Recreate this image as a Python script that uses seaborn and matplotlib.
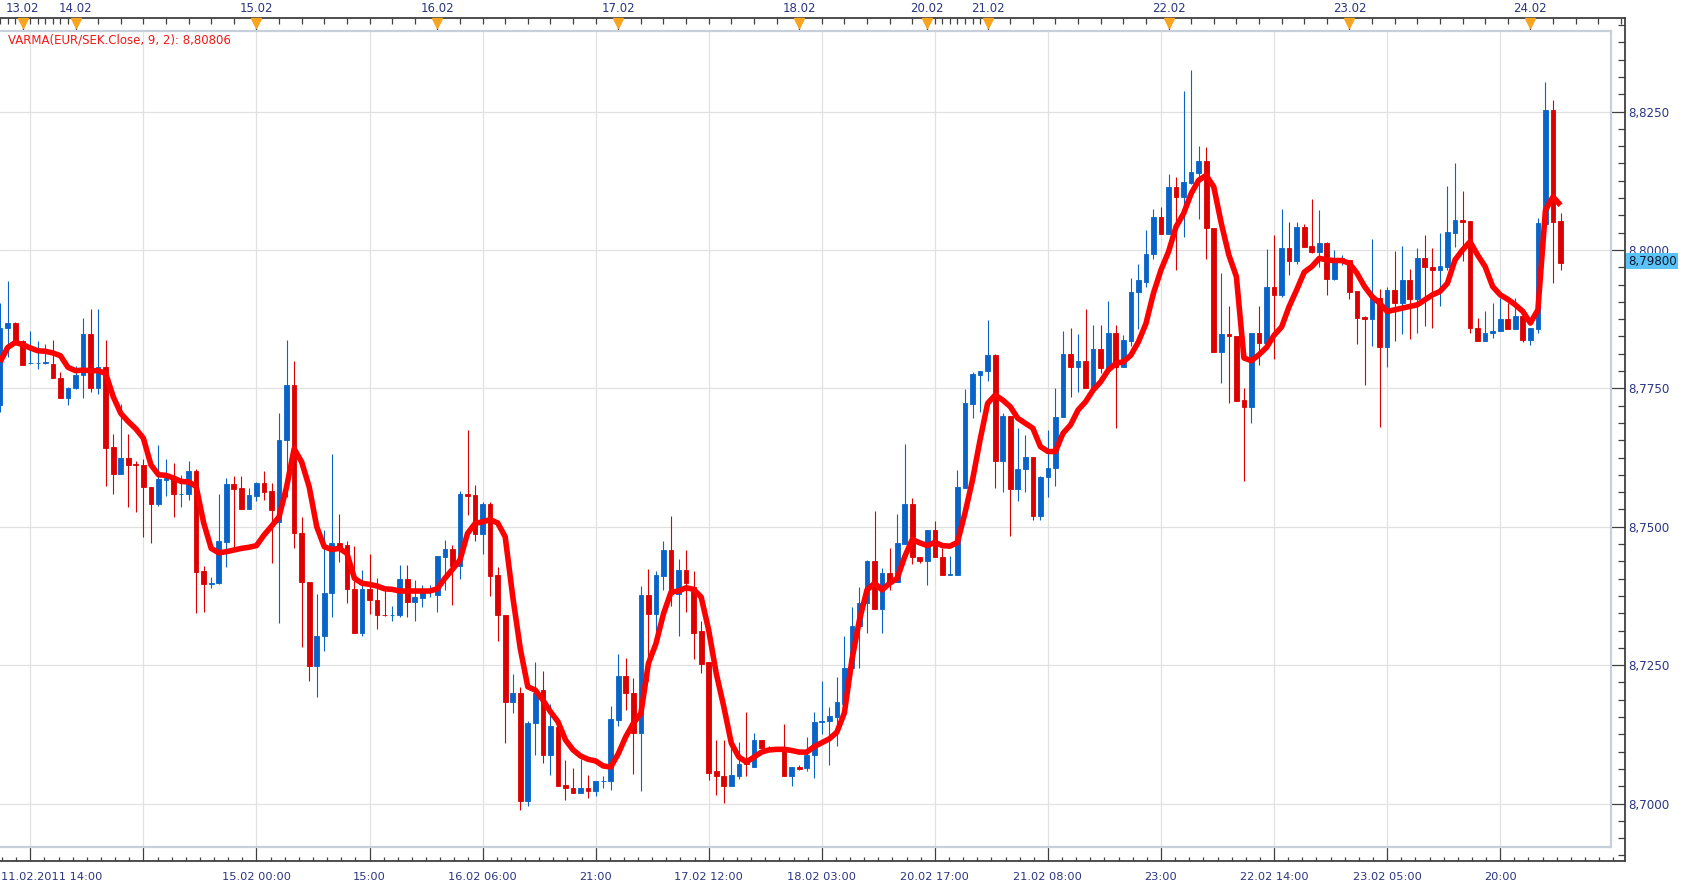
import numpy as np
import matplotlib
matplotlib.use("Agg")
import matplotlib.pyplot as plt
from matplotlib.ticker import MultipleLocator, FixedLocator
import seaborn as sns

# ---------------- data (hourly EUR/SEK candles) ----------------
opens = [
    8.7720, 8.7859, 8.7869, 8.7836, 8.7795, 8.7795, 8.7795, 8.7794, 8.7769, 8.7732,
    8.7750, 8.7774, 8.7848, 8.7751, 8.7788, 8.7644, 8.7596, 8.7624, 8.7613, 8.7611,
    8.7572, 8.7542, 8.7585, 8.7587, 8.7559, 8.7559, 8.7601, 8.7420, 8.7397, 8.7399,
    8.7473, 8.7577, 8.7570, 8.7533, 8.7556, 8.7579, 8.7565, 8.7509, 8.7656, 8.7756,
    8.7488, 8.7400, 8.7248, 8.7303, 8.7380, 8.7470, 8.7467, 8.7387, 8.7308, 8.7387,
    8.7368, 8.7341, 8.7340, 8.7340, 8.7406, 8.7365, 8.7372, 8.7383, 8.7377, 8.7446,
    8.7460, 8.7430, 8.7559, 8.7557, 8.7487, 8.7541, 8.7413, 8.7341, 8.7184, 8.7199,
    8.7004, 8.7145, 8.7206, 8.7088, 8.7139, 8.7034, 8.7028, 8.7020, 8.7028, 8.7023,
    8.7040, 8.7040, 8.7151, 8.7230, 8.7200, 8.7128, 8.7377, 8.7342, 8.7411, 8.7458,
    8.7378, 8.7422, 8.7392, 8.7311, 8.7255, 8.7058, 8.7050, 8.7032, 8.7050, 8.7075,
    8.7067, 8.7114, 8.7100, 8.7100, 8.7100, 8.7049, 8.7066, 8.7064, 8.7088, 8.7147,
    8.7149, 8.7157, 8.7180, 8.7245, 8.7320, 8.7362, 8.7438, 8.7351, 8.7416, 8.7400,
    8.7469, 8.7541, 8.7446, 8.7439, 8.7494, 8.7445, 8.7413, 8.7413, 8.7570, 8.7722,
    8.7775, 8.7781, 8.7810, 8.7618, 8.7700, 8.7568, 8.7604, 8.7626, 8.7520, 8.7590,
    8.7606, 8.7698, 8.7812, 8.7789, 8.7800, 8.7750, 8.7821, 8.7786, 8.7850, 8.7788,
    8.7836, 8.7924, 8.7943, 8.7992, 8.8060, 8.8028, 8.8114, 8.8095, 8.8121, 8.8139,
    8.8160, 8.8040, 8.7816, 8.7848, 8.7845, 8.7729, 8.7717, 8.7850, 8.7832, 8.7933,
    8.7918, 8.8003, 8.7981, 8.8041, 8.8007, 8.7997, 8.8012, 8.7947, 8.7982, 8.7982,
    8.7926, 8.7879, 8.7875, 8.7913, 8.7825, 8.7928, 8.7904, 8.7946, 8.7912, 8.7985,
    8.7969, 8.7963, 8.7970, 8.8031, 8.8054, 8.8052, 8.7860, 8.7836, 8.7850, 8.7853,
    8.7876, 8.7858, 8.7881, 8.7838, 8.7858, 8.8047, 8.8253, 8.8052,
]
highs = [
    8.7904, 8.7944, 8.7870, 8.7837, 8.7854, 8.7835, 8.7830, 8.7838, 8.7780, 8.7752,
    8.7791, 8.7877, 8.7893, 8.7893, 8.7838, 8.7668, 8.7721, 8.7668, 8.7618, 8.7622,
    8.7572, 8.7647, 8.7623, 8.7615, 8.7594, 8.7619, 8.7605, 8.7429, 8.7409, 8.7559,
    8.7588, 8.7592, 8.7591, 8.7570, 8.7581, 8.7601, 8.7579, 8.7706, 8.7837, 8.7800,
    8.7518, 8.7400, 8.7378, 8.7494, 8.7632, 8.7524, 8.7475, 8.7465, 8.7422, 8.7451,
    8.7407, 8.7386, 8.7357, 8.7431, 8.7431, 8.7404, 8.7395, 8.7395, 8.7448, 8.7476,
    8.7467, 8.7564, 8.7675, 8.7576, 8.7544, 8.7544, 8.7427, 8.7341, 8.7234, 8.7210,
    8.7149, 8.7255, 8.7240, 8.7180, 8.7145, 8.7079, 8.7065, 8.7080, 8.7052, 8.7041,
    8.7050, 8.7176, 8.7271, 8.7263, 8.7226, 8.7393, 8.7424, 8.7421, 8.7474, 8.7519,
    8.7442, 8.7458, 8.7420, 8.7329, 8.7255, 8.7114, 8.7115, 8.7112, 8.7112, 8.7166,
    8.7127, 8.7114, 8.7104, 8.7102, 8.7144, 8.7067, 8.7070, 8.7121, 8.7166, 8.7222,
    8.7174, 8.7228, 8.7302, 8.7356, 8.7391, 8.7440, 8.7529, 8.7425, 8.7461, 8.7523,
    8.7650, 8.7552, 8.7446, 8.7494, 8.7511, 8.7461, 8.7447, 8.7603, 8.7749, 8.7779,
    8.7782, 8.7874, 8.7812, 8.7705, 8.7701, 8.7678, 8.7666, 8.7626, 8.7591, 8.7674,
    8.7750, 8.7854, 8.7860, 8.7848, 8.7893, 8.7865, 8.7865, 8.7908, 8.7865, 8.7847,
    8.7949, 8.7975, 8.8036, 8.8074, 8.8077, 8.8137, 8.8131, 8.8287, 8.8325, 8.8188,
    8.8186, 8.8040, 8.7958, 8.7899, 8.7845, 8.7750, 8.7850, 8.7899, 8.8002, 8.8027,
    8.8074, 8.8050, 8.8050, 8.8047, 8.8092, 8.8072, 8.8015, 8.8000, 8.7991, 8.7982,
    8.7926, 8.7880, 8.8020, 8.7930, 8.7934, 8.7998, 8.8007, 8.7966, 8.8003, 8.8027,
    8.8003, 8.8031, 8.8116, 8.8158, 8.8107, 8.8052, 8.7878, 8.7889, 8.7905, 8.7913,
    8.7904, 8.7913, 8.7881, 8.7859, 8.8058, 8.8303, 8.8271, 8.8066,
]
lows = [
    8.7708, 8.7806, 8.7834, 8.7792, 8.7794, 8.7785, 8.7794, 8.7768, 8.7732, 8.7720,
    8.7749, 8.7732, 8.7744, 8.7739, 8.7573, 8.7559, 8.7595, 8.7535, 8.7526, 8.7481,
    8.7471, 8.7538, 8.7555, 8.7517, 8.7535, 8.7549, 8.7344, 8.7347, 8.7390, 8.7396,
    8.7428, 8.7464, 8.7533, 8.7532, 8.7546, 8.7548, 8.7434, 8.7326, 8.7554, 8.7461,
    8.7282, 8.7222, 8.7192, 8.7275, 8.7337, 8.7437, 8.7363, 8.7308, 8.7303, 8.7343,
    8.7315, 8.7339, 8.7330, 8.7337, 8.7337, 8.7329, 8.7356, 8.7374, 8.7347, 8.7385,
    8.7359, 8.7406, 8.7521, 8.7475, 8.7451, 8.7375, 8.7294, 8.7109, 8.7163, 8.6988,
    8.6995, 8.7088, 8.7073, 8.7052, 8.7032, 8.7007, 8.7020, 8.7020, 8.7011, 8.7014,
    8.7029, 8.7025, 8.7141, 8.7169, 8.7053, 8.7022, 8.7222, 8.7312, 8.7386, 8.7357,
    8.7302, 8.7347, 8.7261, 8.7236, 8.7043, 8.7015, 8.7001, 8.7032, 8.7044, 8.7049,
    8.7067, 8.7100, 8.7096, 8.7095, 8.7049, 8.7031, 8.7060, 8.7058, 8.7046, 8.7126,
    8.7070, 8.7104, 8.7163, 8.7245, 8.7245, 8.7309, 8.7351, 8.7309, 8.7386, 8.7400,
    8.7469, 8.7432, 8.7434, 8.7395, 8.7445, 8.7413, 8.7413, 8.7413, 8.7570, 8.7697,
    8.7708, 8.7763, 8.7570, 8.7562, 8.7484, 8.7547, 8.7562, 8.7512, 8.7512, 8.7553,
    8.7573, 8.7698, 8.7734, 8.7743, 8.7750, 8.7750, 8.7777, 8.7786, 8.7678, 8.7788,
    8.7827, 8.7857, 8.7934, 8.7984, 8.8028, 8.8028, 8.7963, 8.8024, 8.8120, 8.8056,
    8.7984, 8.7816, 8.7760, 8.7724, 8.7728, 8.7582, 8.7687, 8.7792, 8.7832, 8.7803,
    8.7915, 8.7954, 8.7975, 8.8006, 8.7995, 8.7970, 8.7918, 8.7945, 8.7973, 8.7912,
    8.7830, 8.7757, 8.7827, 8.7680, 8.7788, 8.7835, 8.7848, 8.7839, 8.7850, 8.7863,
    8.7860, 8.7898, 8.7964, 8.8006, 8.7980, 8.7850, 8.7836, 8.7836, 8.7841, 8.7853,
    8.7858, 8.7858, 8.7833, 8.7829, 8.7850, 8.8047, 8.7941, 8.7964,
]
closes = [
    8.7859, 8.7869, 8.7836, 8.7793, 8.7796, 8.7796, 8.7797, 8.7768, 8.7732, 8.7751,
    8.7774, 8.7848, 8.7751, 8.7788, 8.7643, 8.7596, 8.7624, 8.7612, 8.7611, 8.7571,
    8.7542, 8.7586, 8.7588, 8.7559, 8.7560, 8.7601, 8.7419, 8.7397, 8.7399, 8.7475,
    8.7577, 8.7568, 8.7533, 8.7557, 8.7579, 8.7563, 8.7530, 8.7657, 8.7756, 8.7488,
    8.7400, 8.7248, 8.7303, 8.7380, 8.7470, 8.7464, 8.7387, 8.7308, 8.7387, 8.7367,
    8.7340, 8.7340, 8.7341, 8.7406, 8.7365, 8.7374, 8.7385, 8.7386, 8.7447, 8.7460,
    8.7430, 8.7559, 8.7556, 8.7487, 8.7541, 8.7411, 8.7340, 8.7184, 8.7199, 8.7004,
    8.7145, 8.7199, 8.7088, 8.7140, 8.7032, 8.7028, 8.7020, 8.7028, 8.7023, 8.7041,
    8.7041, 8.7153, 8.7230, 8.7200, 8.7128, 8.7377, 8.7342, 8.7413, 8.7458, 8.7378,
    8.7422, 8.7398, 8.7309, 8.7252, 8.7056, 8.7049, 8.7032, 8.7052, 8.7072, 8.7072,
    8.7114, 8.7100, 8.7098, 8.7097, 8.7049, 8.7067, 8.7062, 8.7088, 8.7148, 8.7150,
    8.7159, 8.7183, 8.7245, 8.7321, 8.7362, 8.7438, 8.7351, 8.7416, 8.7401, 8.7470,
    8.7541, 8.7445, 8.7439, 8.7494, 8.7445, 8.7413, 8.7415, 8.7571, 8.7723, 8.7776,
    8.7782, 8.7810, 8.7618, 8.7700, 8.7568, 8.7604, 8.7626, 8.7520, 8.7590, 8.7607,
    8.7699, 8.7812, 8.7789, 8.7800, 8.7750, 8.7821, 8.7786, 8.7850, 8.7789, 8.7838,
    8.7924, 8.7945, 8.7993, 8.8060, 8.8028, 8.8114, 8.8095, 8.8123, 8.8140, 8.8160,
    8.8040, 8.7816, 8.7848, 8.7844, 8.7728, 8.7717, 8.7850, 8.7832, 8.7933, 8.7918,
    8.8003, 8.7981, 8.8041, 8.8006, 8.7997, 8.8012, 8.7947, 8.7982, 8.7985, 8.7925,
    8.7878, 8.7875, 8.7913, 8.7825, 8.7928, 8.7904, 8.7946, 8.7912, 8.7985, 8.7969,
    8.7963, 8.7971, 8.8032, 8.8054, 8.8051, 8.7860, 8.7836, 8.7850, 8.7854, 8.7876,
    8.7858, 8.7881, 8.7838, 8.7859, 8.8048, 8.8253, 8.8051, 8.7977,
]
varma = [
    8.7798, 8.7824, 8.7833, 8.7829, 8.7823, 8.7818, 8.7817, 8.7814, 8.7809, 8.7788,
    8.7782, 8.7783, 8.7782, 8.7782, 8.7777, 8.7735, 8.7705, 8.7690, 8.7677, 8.7660,
    8.7612, 8.7594, 8.7593, 8.7588, 8.7582, 8.7581, 8.7573, 8.7507, 8.7461, 8.7453,
    8.7455, 8.7458, 8.7461, 8.7463, 8.7466, 8.7485, 8.7501, 8.7518, 8.7572, 8.7641,
    8.7617, 8.7572, 8.7500, 8.7464, 8.7459, 8.7461, 8.7452, 8.7407, 8.7398, 8.7396,
    8.7393, 8.7388, 8.7387, 8.7384, 8.7384, 8.7384, 8.7384, 8.7384, 8.7388, 8.7407,
    8.7423, 8.7440, 8.7488, 8.7506, 8.7509, 8.7513, 8.7507, 8.7482, 8.7374, 8.7280,
    8.7211, 8.7205, 8.7187, 8.7166, 8.7148, 8.7115, 8.7097, 8.7086, 8.7080, 8.7077,
    8.7068, 8.7066, 8.7090, 8.7121, 8.7145, 8.7163, 8.7253, 8.7289, 8.7343, 8.7382,
    8.7384, 8.7390, 8.7387, 8.7373, 8.7313, 8.7235, 8.7175, 8.7109, 8.7084, 8.7075,
    8.7084, 8.7093, 8.7097, 8.7098, 8.7098, 8.7096, 8.7093, 8.7093, 8.7103, 8.7110,
    8.7117, 8.7129, 8.7164, 8.7260, 8.7332, 8.7386, 8.7398, 8.7386, 8.7398, 8.7407,
    8.7446, 8.7477, 8.7471, 8.7466, 8.7472, 8.7466, 8.7465, 8.7472, 8.7525, 8.7585,
    8.7657, 8.7723, 8.7738, 8.7729, 8.7717, 8.7696, 8.7687, 8.7678, 8.7645, 8.7636,
    8.7636, 8.7669, 8.7684, 8.7711, 8.7726, 8.7747, 8.7762, 8.7783, 8.7795, 8.7798,
    8.7810, 8.7834, 8.7867, 8.7922, 8.7964, 8.7997, 8.8042, 8.8066, 8.8102, 8.8126,
    8.8135, 8.8114, 8.8048, 8.7991, 8.7952, 8.7805, 8.7800, 8.7811, 8.7824, 8.7846,
    8.7861, 8.7898, 8.7928, 8.7960, 8.7970, 8.7985, 8.7982, 8.7981, 8.7981, 8.7976,
    8.7958, 8.7934, 8.7916, 8.7904, 8.7889, 8.7892, 8.7895, 8.7898, 8.7901, 8.7910,
    8.7919, 8.7925, 8.7940, 8.7982, 8.8000, 8.8015, 8.7991, 8.7970, 8.7934, 8.7919,
    8.7911, 8.7901, 8.7889, 8.7868, 8.7892, 8.8072, 8.8096, 8.8081,
]

bottom_tick_bars = [4, 19, 34, 49, 64, 79, 94, 109, 124, 139, 154, 169, 184, 199]
bottom_tick_labels = ["11.02.2011 14:00", "", "15.02 00:00", "15:00", "16.02 06:00",
                      "21:00", "17.02 12:00", "18.02 03:00", "20.02 17:00",
                      "21.02 08:00", "23:00", "22.02 14:00", "23.02 05:00", "20:00"]
day_marker_bars = [3, 10, 34, 58, 82, 106, 123, 131, 155, 179, 203]
day_marker_labels = ["13.02", "14.02", "15.02", "16.02", "17.02", "18.02",
                     "20.02", "21.02", "22.02", "23.02", "24.02"]
price_ticks = [8.700, 8.725, 8.750, 8.775, 8.800, 8.825]
price_tick_labels = ["8,7000", "8,7250", "8,7500", "8,7750", "8,8000", "8,8250"]
last_price = 8.79800
last_price_label = "8,79800"
varma_label = "VARMA(EUR/SEK.Close, 9, 2): 8,80806"

# ---------------- style ----------------
BLUE = "#0864c8"
RED = "#dc0000"
LINE_RED = "#ff0000"
NAVY = "#2b3580"
AXIS = "#404040"
GRID = "#e1e1e1"
BORDER = "#c7cfdb"
ORANGE = "#f7a51e"

sns.set_style("white")
plt.rcParams["font.family"] = ["DejaVu Sans"]

W, H = 1682, 888
PX_PER_BAR = 7.538
X_REF_PX, X_REF_BAR = 30.3, 4
PX_PER_PRICE = 138.4 / 0.025
Y_REF_PX, Y_REF_PRICE = 111.6, 8.825


def bar_at(px):
    return (px - X_REF_PX) / PX_PER_BAR + X_REF_BAR


def price_at(py):
    return Y_REF_PRICE - (py - Y_REF_PX) / PX_PER_PRICE


def rect(l, t, r, b):
    return [l / W, 1 - b / H, (r - l) / W, (b - t) / H]


fig = plt.figure(figsize=(W / 100, H / 100), dpi=100)
fig.patch.set_facecolor("white")

# ---- outer frame with the axes lines, ticks and labels ----
ax_out = fig.add_axes(rect(0, 18, 1625, 861))
ax_out.set_xlim(bar_at(0), bar_at(1625))
ax_out.set_ylim(price_at(861), price_at(18))
ax_out.set_facecolor("white")
for side in ["top", "right", "bottom"]:
    ax_out.spines[side].set_color(AXIS)
    ax_out.spines[side].set_linewidth(1.3)
ax_out.spines["left"].set_visible(False)

ax_out.xaxis.set_ticks_position("bottom")
ax_out.set_xticks(bottom_tick_bars)
ax_out.set_xticklabels([""] + bottom_tick_labels[1:])
ax_out.xaxis.set_minor_locator(MultipleLocator(15 / 8, offset=4))
ax_out.tick_params(axis="x", which="major", direction="in", length=10, width=0.9,
                   color=AXIS, pad=8, labelsize=8.2, labelcolor=NAVY)
ax_out.tick_params(axis="x", which="minor", direction="in", length=3, width=0.9,
                   color=AXIS)
ax_out.annotate(bottom_tick_labels[0], xy=(0, 0), xycoords="axes fraction",
                xytext=(1, -8), textcoords="offset points", ha="left", va="top",
                fontsize=8.2, color=NAVY)

ax_out.yaxis.set_ticks_position("right")
ax_out.set_yticks(price_ticks)
ax_out.set_yticklabels(price_tick_labels)
ax_out.yaxis.set_minor_locator(MultipleLocator(0.003125))
ax_out.tick_params(axis="y", which="major", direction="in", length=10, width=0.9,
                   color=AXIS, pad=2, labelsize=8.6, labelcolor=NAVY)
ax_out.tick_params(axis="y", which="minor", direction="in", length=5, width=0.9,
                   color=AXIS)

ax_out.annotate(last_price_label, xy=(1.0, last_price),
                xycoords=ax_out.get_yaxis_transform(),
                xytext=(2, 0), textcoords="offset points", ha="left", va="center",
                fontsize=8.6, color="#101830", zorder=10,
                bbox=dict(boxstyle="square,pad=0.12", fc="#5bc3f6", ec="none"))

# ---- top date axis ----
ax_top = ax_out.twiny()
ax_top.set_xlim(ax_out.get_xlim())
for s in ax_top.spines.values():
    s.set_visible(False)
ax_top.set_xticks(day_marker_bars)
ax_top.set_xticklabels(day_marker_labels)
top_minor = ([0, 1, 2, 4, 5, 6, 7, 8, 9] + list(range(13, 123, 3))
             + list(range(124, 131)) + list(range(134, 216, 3)))
ax_top.xaxis.set_minor_locator(FixedLocator(top_minor))
ax_top.tick_params(axis="x", which="major", direction="in", length=9, width=0.9,
                   color=AXIS, pad=2, labelsize=8.5, labelcolor=NAVY)
ax_top.tick_params(axis="x", which="minor", direction="in", length=4, width=0.9,
                   color=AXIS)
ax_top.plot(day_marker_bars, [0.9935] * len(day_marker_bars), linestyle="none",
            marker="v", markersize=6.5, color=ORANGE, mec=ORANGE,
            transform=ax_top.get_xaxis_transform(), clip_on=False, zorder=5)

# ---- inner chart panel ----
ax_in = fig.add_axes(rect(0, 31, 1611, 847))
ax_in.set_facecolor("white")
ax_in.set_xlim(bar_at(0), bar_at(1611))
ax_in.set_ylim(price_at(847), price_at(31))
for side in ["top", "right", "bottom"]:
    ax_in.spines[side].set_color(BORDER)
    ax_in.spines[side].set_linewidth(1.6)
ax_in.spines["left"].set_visible(False)
ax_in.set_xticks(bottom_tick_bars)
ax_in.set_yticks(price_ticks)
ax_in.tick_params(length=0, labelbottom=False, labelleft=False)
ax_in.grid(True, color=GRID, linewidth=0.9)
ax_in.set_axisbelow(True)

idx = np.arange(len(opens))
o = np.array(opens)
c = np.array(closes)
hi = np.array(highs)
lo = np.array(lows)
cols = np.where(c >= o, BLUE, RED)

ax_in.vlines(idx, lo, hi, colors=cols, linewidth=0.8, zorder=2)
ax_in.bar(idx, np.abs(c - o), bottom=np.minimum(o, c), width=0.62,
          color=cols, edgecolor=cols, linewidth=0.6, zorder=3)

sns.lineplot(x=idx, y=varma, ax=ax_in, color=LINE_RED, linewidth=4.0,
             zorder=4, solid_capstyle="butt")
ax_in.set_xlabel("")
ax_in.set_ylabel("")

ax_in.annotate(varma_label, xy=(0, 1), xycoords="axes fraction",
               xytext=(8, -9), textcoords="offset pixels", ha="left",
               va="center", fontsize=8.5, color="#f01818")

fig.savefig("out.png", dpi=100, facecolor="white")
